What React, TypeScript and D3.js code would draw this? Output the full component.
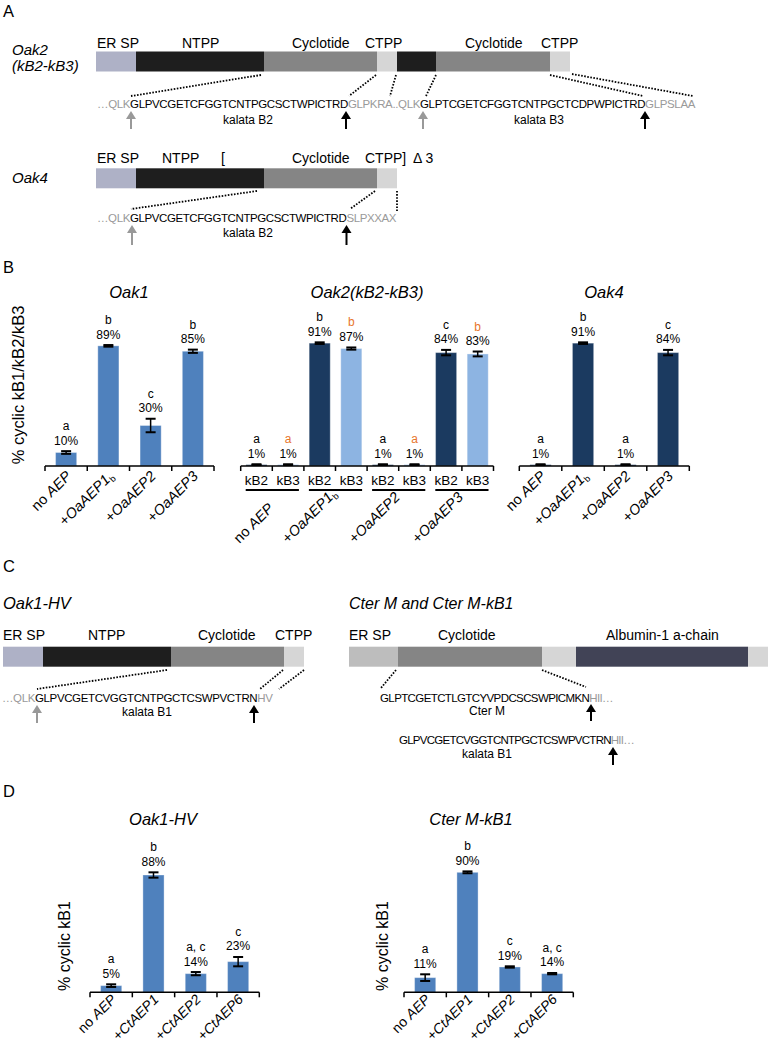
import React from "react";
import * as d3 from "d3";

// ---------------- DATA ----------------
const oak1Categories = ["no AEP", "+OaAEP1b", "+OaAEP2", "+OaAEP3"];
const oak1Values = [10, 89, 30, 85];
const oak1Errors = [1, 0.6, 5, 1.2];
const oak1Letters = ["a", "b", "c", "b"];

const oak2Groups = ["no AEP", "+OaAEP1b", "+OaAEP2", "+OaAEP3"];
const oak2Subs = ["kB2", "kB3"];
const oak2KB2Values = [1, 91, 1, 84];
const oak2KB2Errors = [0.3, 0.6, 0.3, 2];
const oak2KB2Letters = ["a", "b", "a", "c"];
const oak2KB3Values = [1, 87, 1, 83];
const oak2KB3Errors = [0.3, 0.8, 0.3, 1.8];
const oak2KB3Letters = ["a", "b", "a", "b"];

const oak4Categories = ["no AEP", "+OaAEP1b", "+OaAEP2", "+OaAEP3"];
const oak4Values = [1, 91, 1, 84];
const oak4Errors = [0.3, 0.6, 0.3, 2];
const oak4Letters = ["a", "b", "a", "c"];

const dCategories = ["no AEP", "+CtAEP1", "+CtAEP2", "+CtAEP6"];
const oak1hvValues = [5, 88, 14, 23];
const oak1hvErrors = [1, 2, 1.2, 3.5];
const oak1hvLetters = ["a", "b", "a, c", "c"];
const cterValues = [11, 90, 19, 14];
const cterErrors = [2.5, 0.7, 0.5, 0.5];
const cterLetters = ["a", "b", "c", "a, c"];

// ---------------- STYLE ----------------
const FONT = "'Liberation Sans', Arial, Helvetica, sans-serif";
const MID_BLUE = "#4f81bd";
const DARK_BLUE = "#1b3a60";
const LIGHT_BLUE = "#8db4e2";
const ORANGE = "#e8762d";
const GRAY_TXT = "#9a9a9a";
const C_ER = "#aeb1c6";
const C_NTPP = "#1e1e1e";
const C_CYC = "#858585";
const C_CTPP = "#d6d6d6";
const SEQ_SIZE = 11.5;

let _ctx: CanvasRenderingContext2D | null = null;
function measure(text: string, font: string) {
  if (!_ctx) _ctx = document.createElement("canvas").getContext("2d");
  if (!_ctx) return text.length * 8;
  _ctx.font = font;
  return _ctx.measureText(text).width;
}

type Part = { t: string; s: "n" | "i" | "sub" };
function catParts(label: string): Part[] {
  if (label.startsWith("no ")) return [{ t: "no ", s: "n" }, { t: label.slice(3), s: "i" }];
  if (label.startsWith("+")) {
    const rest = label.slice(1);
    const m = rest.match(/^(.*1)b$/);
    if (m) return [{ t: "+", s: "n" }, { t: m[1], s: "i" }, { t: "b", s: "sub" }];
    return [{ t: "+", s: "n" }, { t: rest, s: "i" }];
  }
  return [{ t: label, s: "n" }];
}
const SUB_SIZE = 9;
function partsLength(parts: Part[], size: number) {
  return parts.reduce((acc, p) => {
    const f =
      p.s === "i"
        ? `italic ${size}px 'Liberation Sans'`
        : p.s === "sub"
        ? `${SUB_SIZE}px 'Liberation Sans'`
        : `${size}px 'Liberation Sans'`;
    return acc + measure(p.t, f);
  }, 0);
}

function CatLabel({ label, x, y, anchor, size }: { label: string; x: number; y: number; anchor: "start" | "end"; size: number }) {
  const parts = catParts(label);
  let subOn = false;
  return (
    <text transform={`translate(${x},${y}) rotate(-45)`} textAnchor={anchor} fontSize={size} fontFamily={FONT} fill="#000">
      {parts.map((p, i) => {
        const dy = p.s === "sub" ? 3 : subOn ? -3 : 0;
        subOn = p.s === "sub";
        return (
          <tspan key={i} fontStyle={p.s === "i" ? "italic" : "normal"} fontSize={p.s === "sub" ? SUB_SIZE : size} dy={dy || undefined}>
            {p.t}
          </tspan>
        );
      })}
    </text>
  );
}

function ErrorBar({ cx, yLo, yHi }: { cx: number; yLo: number; yHi: number }) {
  const hw = 5;
  return (
    <g stroke="#000">
      <line x1={cx} x2={cx} y1={yLo} y2={yHi} strokeWidth={1.5} />
      <line x1={cx - hw} x2={cx + hw} y1={yHi} y2={yHi} strokeWidth={2} />
      <line x1={cx - hw} x2={cx + hw} y1={yLo} y2={yLo} strokeWidth={2} />
    </g>
  );
}

function BarAnn({ cx, top, letter, pct, letterColor }: { cx: number; top: number; letter: string; pct: string; letterColor: string }) {
  return (
    <g fontFamily={FONT} fontSize={12} textAnchor="middle">
      <text x={cx} y={top - 21} fill={letterColor}>{letter}</text>
      <text x={cx} y={top - 6.5} fill="#000">{pct}</text>
    </g>
  );
}

function SimpleBars({
  cats, values, errors, letters, range, axisY, px100, color, labelSize = 14.5, labelDy = 11,
}: {
  cats: string[]; values: number[]; errors: number[]; letters: string[];
  range: [number, number]; axisY: number; px100: number; color: string; labelSize?: number; labelDy?: number;
}) {
  const x = d3.scaleBand<string>().domain(cats).range(range).paddingInner(0.5).paddingOuter(0.25);
  const y = d3.scaleLinear().domain([0, 100]).range([axisY, axisY - px100]);
  const step = (range[1] - range[0]) / cats.length;
  const ticks = d3.range(cats.length + 1).map((i) => range[0] + i * step);
  return (
    <g>
      {cats.map((c, i) => {
        const x0 = x(c)!;
        const bw = x.bandwidth();
        const cx = x0 + bw / 2;
        const v = values[i];
        const e = errors[i];
        return (
          <g key={c}>
            <rect x={x0} y={y(v)} width={bw} height={axisY - y(v)} fill={color} stroke="#fff" strokeOpacity={0.35} strokeWidth={1} />
            <ErrorBar cx={cx} yLo={y(Math.max(0, v - e))} yHi={y(v + e)} />
            <BarAnn cx={cx} top={y(v + e)} letter={letters[i]} pct={`${v}%`} letterColor="#000" />
            <CatLabel label={c} x={cx + 6} y={axisY + labelDy} anchor="end" size={labelSize} />
          </g>
        );
      })}
      <line x1={range[0]} x2={range[1]} y1={axisY} y2={axisY} stroke="#000" strokeWidth={1.5} />
      {ticks.map((t, i) => (
        <line key={i} x1={t} x2={t} y1={axisY} y2={axisY + 5} stroke="#000" strokeWidth={1.5} />
      ))}
    </g>
  );
}

function GroupedBars() {
  const range: [number, number] = [240.7, 493.5];
  const axisY = 466;
  const size = 14.5;
  const xg = d3.scaleBand<string>().domain(oak2Groups).range(range);
  const xs = d3.scaleBand<string>().domain(oak2Subs).range([0, xg.bandwidth()]).paddingInner(1 / 3).paddingOuter(1 / 6);
  const y = d3.scaleLinear().domain([0, 100]).range([axisY, axisY - 135]);
  const series = [
    { sub: "kB2", values: oak2KB2Values, errors: oak2KB2Errors, letters: oak2KB2Letters, color: DARK_BLUE, lc: "#000" },
    { sub: "kB3", values: oak2KB3Values, errors: oak2KB3Errors, letters: oak2KB3Letters, color: LIGHT_BLUE, lc: ORANGE },
  ];
  const step = xs.step();
  const ticks = d3.range(oak2Groups.length * 2 + 1).map((i) => range[0] + i * step);
  return (
    <g>
      {oak2Groups.map((g, gi) => {
        const gx = xg(g)!;
        const gcx = gx + xg.bandwidth() / 2;
        const L = partsLength(catParts(g), size);
        return (
          <g key={g}>
            {series.map((s) => {
              const x0 = gx + xs(s.sub)!;
              const bw = xs.bandwidth();
              const cx = x0 + bw / 2;
              const v = s.values[gi];
              const e = s.errors[gi];
              return (
                <g key={s.sub}>
                  <rect x={x0} y={y(v)} width={bw} height={axisY - y(v)} fill={s.color} stroke="#fff" strokeOpacity={0.35} strokeWidth={1} />
                  <ErrorBar cx={cx} yLo={y(Math.max(0, v - e))} yHi={y(v + e)} />
                  <BarAnn cx={cx} top={y(v + e)} letter={s.letters[gi]} pct={`${v}%`} letterColor={s.lc} />
                  <text x={cx} y={485} textAnchor="middle" fontFamily={FONT} fontSize={13.5}>{s.sub}</text>
                </g>
              );
            })}
            <line x1={gx + 5} x2={gx + xg.bandwidth() - 5} y1={490} y2={490} stroke="#000" strokeWidth={1.8} />
            <CatLabel label={g} x={gcx + 2 - L * Math.SQRT1_2} y={544} anchor="start" size={size} />
          </g>
        );
      })}
      <line x1={range[0]} x2={range[1]} y1={axisY} y2={axisY} stroke="#000" strokeWidth={1.5} />
      {ticks.map((t, i) => (
        <line key={i} x1={t} x2={t} y1={axisY} y2={axisY + 5} stroke="#000" strokeWidth={1.5} />
      ))}
    </g>
  );
}

// ---------------- schematic helpers ----------------
type Seg = { x0: number; x1: number; c: string };
function SegBar({ segs, y, h = 20 }: { segs: Seg[]; y: number; h?: number }) {
  return (
    <g>
      {segs.map((s, i) => (
        <rect key={i} x={s.x0} y={y} width={s.x1 - s.x0} height={h} fill={s.c} />
      ))}
    </g>
  );
}
function Dot({ x1, y1, x2, y2 }: { x1: number; y1: number; x2: number; y2: number }) {
  return <line x1={x1} y1={y1} x2={x2} y2={y2} stroke="#000" strokeWidth={1.8} strokeDasharray="1.6 1.5" />;
}
function Arrow({ x, y1, y2, c }: { x: number; y1: number; y2: number; c: string }) {
  return (
    <g>
      <line x1={x} x2={x} y1={y1 + 6} y2={y2} stroke={c} strokeWidth={2} />
      <polygon points={`${x},${y1} ${x - 5},${y1 + 8} ${x + 5},${y1 + 8}`} fill={c} />
    </g>
  );
}
// one text per sequence line, coloured runs as tspans ([text, isGray]); condensed with letter-spacing
function SeqLine({ x, y, w, runs }: { x: number; y: number; w: number; runs: [string, boolean][] }) {
  const full = runs.map((r) => r[0]).join("");
  const natural = measure(full, `${SEQ_SIZE}px 'Liberation Sans'`);
  const ls = (w - natural) / full.length;
  return (
    <text x={x} y={y} fontSize={SEQ_SIZE} fontFamily={FONT} letterSpacing={ls}>
      {runs.map(([t, g], i) => (
        <tspan key={i} fill={g ? GRAY_TXT : "#000"}>{t}</tspan>
      ))}
    </text>
  );
}
function Lbl({ x, y, t, size = 14, anchor = "start", italic = false }: { x: number; y: number; t: string; size?: number; anchor?: string; italic?: boolean }) {
  return (
    <text x={x} y={y} fontSize={size} fontFamily={FONT} textAnchor={anchor as any} fontStyle={italic ? "italic" : "normal"}>
      {t}
    </text>
  );
}

export default function App() {
  const oak2Segs: Seg[] = [
    { x0: 96, x1: 136, c: C_ER },
    { x0: 136, x1: 264, c: C_NTPP },
    { x0: 264, x1: 377, c: C_CYC },
    { x0: 377, x1: 397, c: C_CTPP },
    { x0: 397, x1: 436, c: C_NTPP },
    { x0: 436, x1: 550, c: C_CYC },
    { x0: 550, x1: 570, c: C_CTPP },
  ];
  const oak4Segs: Seg[] = [
    { x0: 96, x1: 136, c: C_ER },
    { x0: 136, x1: 264, c: C_NTPP },
    { x0: 264, x1: 377, c: C_CYC },
    { x0: 377, x1: 397, c: C_CTPP },
  ];
  const hvSegs: Seg[] = [
    { x0: 3, x1: 43, c: C_ER },
    { x0: 43, x1: 171, c: C_NTPP },
    { x0: 171, x1: 284, c: C_CYC },
    { x0: 284, x1: 304, c: C_CTPP },
  ];
  const cterSegs: Seg[] = [
    { x0: 349, x1: 398, c: "#bdbdbd" },
    { x0: 398, x1: 542, c: C_CYC },
    { x0: 542, x1: 576, c: C_CTPP },
    { x0: 576, x1: 748, c: "#414356" },
    { x0: 748, x1: 768, c: C_CTPP },
  ];

  return (
    <svg width={770} height={1044} style={{ position: "absolute", left: 0, top: 0, background: "#fff" }} fontFamily={FONT}>
      <rect width={770} height={1044} fill="#fff" />
      {/* ---------- Panel A ---------- */}
      <Lbl x={3} y={17} t="A" size={16.5} />
      <Lbl x={12} y={55} t="Oak2" size={15} italic />
      <Lbl x={12} y={71} t="(kB2-kB3)" size={15} italic />
      <Lbl x={97} y={48} t="ER SP" />
      <Lbl x={182} y={48} t="NTPP" />
      <Lbl x={292} y={48} t="Cyclotide" />
      <Lbl x={365} y={48} t="CTPP" />
      <Lbl x={465} y={48} t="Cyclotide" />
      <Lbl x={541} y={48} t="CTPP" />
      <SegBar segs={oak2Segs} y={51.5} />
      <Dot x1={261} y1={75} x2={131} y2={96} />
      <Dot x1={376} y1={75} x2={349} y2={96} />
      <Dot x1={396} y1={75} x2={390} y2={96} />
      <Dot x1={436} y1={75} x2={426} y2={96} />
      <Dot x1={550} y1={75} x2={643} y2={96} />
      <Dot x1={572} y1={74} x2={693} y2={96} />
      <SeqLine
        x={97}
        y={107.5}
        w={598}
        runs={[
          ["…QLK", true],
          ["GLPVCGETCFGGTCNTPGCSCTWPICTRD", false],
          ["GLPKRA..QLK", true],
          ["GLPTCGETCFGGTCNTPGCTCDPWPICTRD", false],
          ["GLPSLAA", true],
        ]}
      />
      <Lbl x={248} y={123.5} t="kalata B2" size={12} anchor="middle" />
      <Lbl x={539} y={123.5} t="kalata B3" size={12} anchor="middle" />
      <Arrow x={131} y1={111} y2={129} c="#999" />
      <Arrow x={346} y1={111} y2={129} c="#000" />
      <Arrow x={423} y1={111} y2={129} c="#999" />
      <Arrow x={645} y1={111} y2={129} c="#000" />

      <Lbl x={12} y={183} t="Oak4" size={15} italic />
      <Lbl x={97} y={163} t="ER SP" />
      <Lbl x={162} y={163} t="NTPP" />
      <Lbl x={221} y={163} t="[" />
      <Lbl x={292} y={163} t="Cyclotide" />
      <Lbl x={365} y={163} t="CTPP]" />
      <Lbl x={413} y={163} t="Δ 3" />
      <SegBar segs={oak4Segs} y={168.3} />
      <Dot x1={257} y1={191} x2={131} y2={209} />
      <Dot x1={375} y1={191} x2={350} y2={209} />
      <Dot x1={397} y1={191} x2={397} y2={211} />
      <SeqLine
        x={97}
        y={222}
        w={299}
        runs={[
          ["…QLK", true],
          ["GLPVCGETCFGGTCNTPGCSCTWPICTRD", false],
          ["SLPXXAX", true],
        ]}
      />
      <Lbl x={248} y={237} t="kalata B2" size={12} anchor="middle" />
      <Arrow x={132} y1={225} y2={245} c="#999" />
      <Arrow x={346.5} y1={225} y2={245} c="#000" />

      {/* ---------- Panel B ---------- */}
      <Lbl x={3} y={273} t="B" size={16.5} />
      <text transform="translate(24,385) rotate(-90)" textAnchor="middle" fontSize={16.5} fontFamily={FONT}>
        % cyclic kB1/kB2/kB3
      </text>
      <Lbl x={129} y={298} t="Oak1" size={16.5} anchor="middle" italic />
      <Lbl x={367} y={298} t="Oak2(kB2-kB3)" size={16.5} anchor="middle" italic />
      <Lbl x={604} y={298} t="Oak4" size={16.5} anchor="middle" italic />
      <SimpleBars cats={oak1Categories} values={oak1Values} errors={oak1Errors} letters={oak1Letters} range={[45, 214]} axisY={466} px100={135} color={MID_BLUE} />
      <GroupedBars />
      <SimpleBars cats={oak4Categories} values={oak4Values} errors={oak4Errors} letters={oak4Letters} range={[519.3, 689.3]} axisY={466} px100={135} color={DARK_BLUE} />

      {/* ---------- Panel C ---------- */}
      <Lbl x={3} y={572} t="C" size={16.5} />
      <Lbl x={3} y={609} t="Oak1-HV" size={16.5} italic />
      <Lbl x={349} y={609} t="Cter M and Cter M-kB1" size={16} italic />
      <Lbl x={3} y={640} t="ER SP" />
      <Lbl x={88} y={640} t="NTPP" />
      <Lbl x={198} y={640} t="Cyclotide" />
      <Lbl x={275} y={640} t="CTPP" />
      <SegBar segs={hvSegs} y={646.7} />
      <Dot x1={167} y1={670} x2={37} y2={689} />
      <Dot x1={283} y1={670} x2={260} y2={689} />
      <Dot x1={304} y1={670} x2={279} y2={689} />
      <SeqLine
        x={2}
        y={702}
        w={270.5}
        runs={[
          ["…QLK", true],
          ["GLPVCGETCVGGTCNTPGCTCSWPVCTRN", false],
          ["HV", true],
        ]}
      />
      <Lbl x={147} y={716} t="kalata B1" size={12} anchor="middle" />
      <Arrow x={37} y1={705} y2={723} c="#999" />
      <Arrow x={254} y1={705} y2={723} c="#000" />

      <Lbl x={349} y={640} t="ER SP" />
      <Lbl x={438} y={640} t="Cyclotide" />
      <Lbl x={606} y={640} t="Albumin-1 a-chain" />
      <SegBar segs={cterSegs} y={646.7} />
      <Dot x1={396} y1={670} x2={381} y2={688} />
      <Dot x1={542} y1={670} x2={586} y2={687} />
      <SeqLine
        x={380}
        y={702}
        w={233}
        runs={[
          ["GLPTCGETCTLGTCYVPDCSCSWPICMKN", false],
          ["HII…", true],
        ]}
      />
      <Lbl x={487} y={715} t="Cter M" size={12} anchor="middle" />
      <Arrow x={591} y1={704} y2={721} c="#000" />
      <SeqLine
        x={399}
        y={744}
        w={235}
        runs={[
          ["GLPVCGETCVGGTCNTPGCTCSWPVCTRN", false],
          ["HII…", true],
        ]}
      />
      <Lbl x={487} y={758} t="kalata B1" size={12} anchor="middle" />
      <Arrow x={613} y1={747} y2={765} c="#000" />

      {/* ---------- Panel D ---------- */}
      <Lbl x={3} y={797} t="D" size={16.5} />
      <Lbl x={163} y={825} t="Oak1-HV" size={16.5} anchor="middle" italic />
      <Lbl x={471} y={825} t="Cter M-kB1" size={16.5} anchor="middle" italic />
      <text transform="translate(70,946) rotate(-90)" textAnchor="middle" fontSize={16} fontFamily={FONT}>
        % cyclic kB1
      </text>
      <text transform="translate(388,946) rotate(-90)" textAnchor="middle" fontSize={16} fontFamily={FONT}>
        % cyclic kB1
      </text>
      <SimpleBars cats={dCategories} values={oak1hvValues} errors={oak1hvErrors} letters={oak1hvLetters} range={[90, 259.3]} axisY={992.3} px100={133.3} color={MID_BLUE} labelSize={14} labelDy={8} />
      <SimpleBars cats={dCategories} values={cterValues} errors={cterErrors} letters={cterLetters} range={[404, 573.3]} axisY={992.3} px100={133.3} color={MID_BLUE} labelSize={14} labelDy={8} />
    </svg>
  );
}
